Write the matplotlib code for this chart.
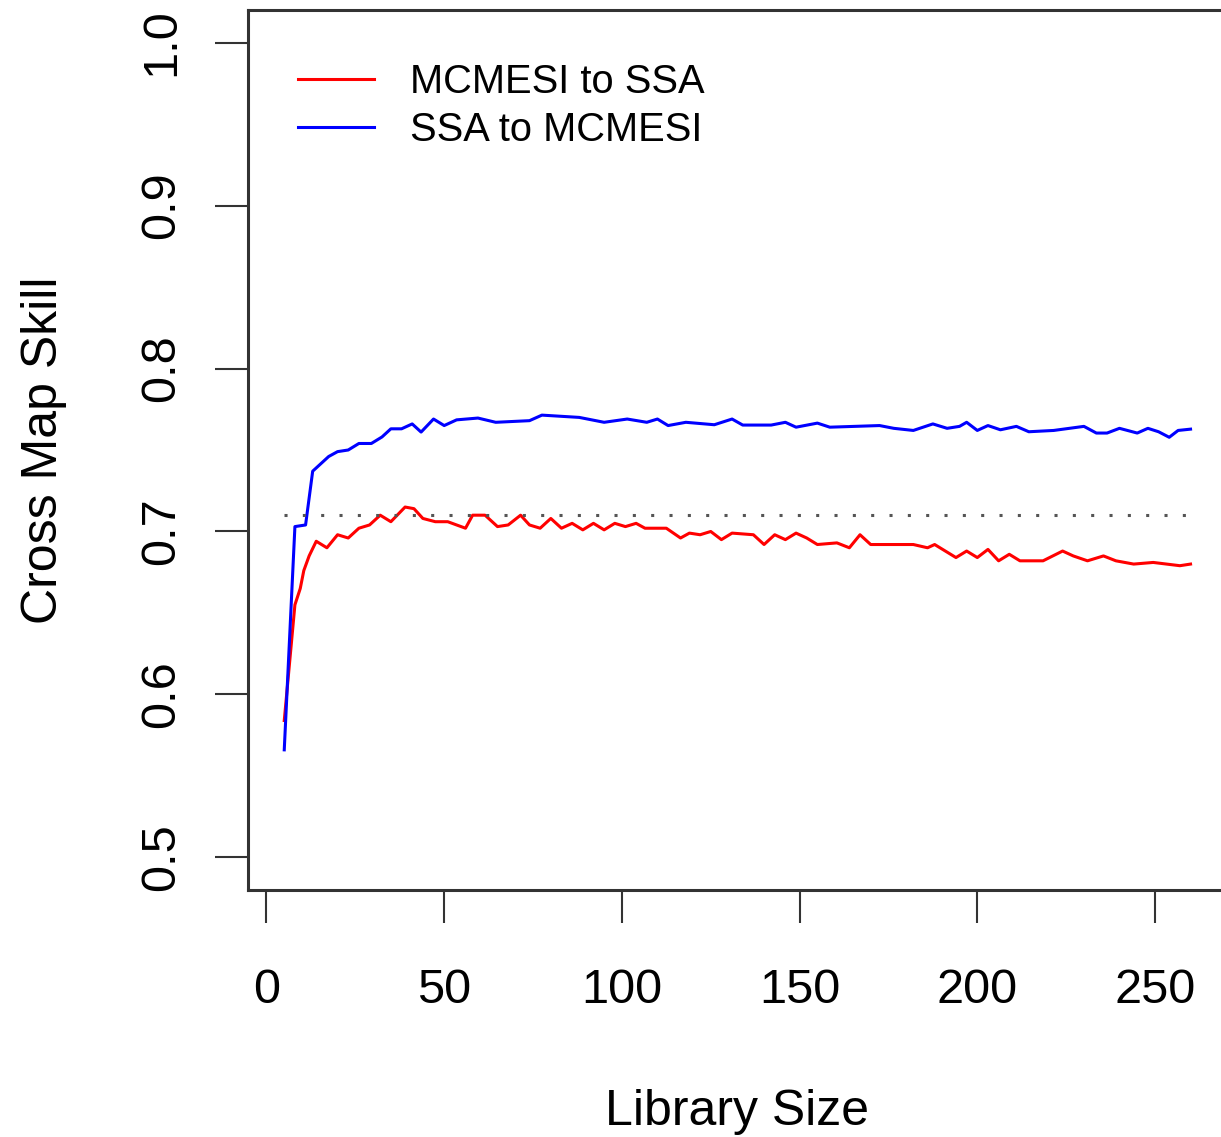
import matplotlib
matplotlib.use("Agg")
import matplotlib.pyplot as plt

plt.rcParams['font.family'] = ['Liberation Sans', 'DejaVu Sans']

# cross map skill vs library size, read per series
red_lib = [5, 8, 9.5, 10.5, 12, 14, 17, 20, 23, 26, 29, 32, 35, 39, 41.5, 44,
           47.5, 51, 56, 58, 61.5, 65, 68, 71.5, 74, 77, 80, 83, 86, 89, 92,
           95, 98, 101, 104, 106.5, 112.5, 116.5, 119, 122, 125, 128, 131,
           137, 140, 143, 146, 149, 152, 155, 160.5, 164, 167, 170, 182, 186,
           188, 194, 197, 200, 203, 206, 209, 212, 218.5, 224, 227, 231,
           235.5, 239, 244, 249.5, 257, 260]
red_skill = [0.584, 0.655, 0.665, 0.676, 0.685, 0.694, 0.690, 0.698, 0.696,
             0.702, 0.704, 0.710, 0.706, 0.715, 0.714, 0.708, 0.706, 0.706,
             0.702, 0.710, 0.710, 0.703, 0.704, 0.710, 0.704, 0.702, 0.708,
             0.702, 0.705, 0.701, 0.705, 0.701, 0.705, 0.703, 0.705, 0.702,
             0.702, 0.696, 0.699, 0.698, 0.700, 0.695, 0.699, 0.698, 0.692,
             0.698, 0.695, 0.699, 0.696, 0.692, 0.693, 0.690, 0.698, 0.692,
             0.692, 0.690, 0.692, 0.684, 0.688, 0.684, 0.689, 0.682, 0.686,
             0.682, 0.682, 0.688, 0.685, 0.682, 0.685, 0.682, 0.680, 0.681,
             0.679, 0.680]

blue_lib = [5, 8, 11, 13, 14.5, 17.5, 20, 23, 26, 29.5, 32.5, 35, 38, 41,
            43.5, 47, 50, 53.5, 59.5, 64.5, 74, 77.5, 88, 95, 101.5, 107, 110,
            113, 118, 126, 131, 134, 142, 146, 149, 155, 158.5, 172.5, 176.5,
            182, 187.5, 191.5, 195, 197, 200, 203, 206.5, 211, 214.5, 221.5,
            230, 233.5, 236.5, 240, 245, 248, 251, 254, 256.5, 260]
blue_skill = [0.566, 0.703, 0.704, 0.737, 0.740, 0.746, 0.749, 0.750, 0.754,
              0.754, 0.758, 0.763, 0.763, 0.766, 0.761, 0.769, 0.765, 0.7685,
              0.7696, 0.767, 0.768, 0.7714, 0.770, 0.767, 0.769, 0.767, 0.769,
              0.765, 0.767, 0.7655, 0.769, 0.7653, 0.7653, 0.767, 0.764,
              0.7665, 0.764, 0.765, 0.7633, 0.762, 0.766, 0.7633, 0.7645,
              0.767, 0.762, 0.765, 0.7624, 0.7645, 0.7612, 0.762, 0.7645,
              0.7604, 0.7604, 0.7633, 0.7604, 0.7633, 0.7612, 0.7578, 0.762,
              0.7628]

ref_lib = [5, 259]
ref_skill = [0.71, 0.71]

x_ticks = [0, 50, 100, 150, 200, 250]
y_ticks = [0.5, 0.6, 0.7, 0.8, 0.9, 1.0]
y_tick_labels = ["0.5", "0.6", "0.7", "0.8", "0.9", "1.0"]

fig = plt.figure(figsize=(12.21, 11.37), dpi=100)
ax = fig.add_axes([248 / 1221, 247 / 1137, 978.8 / 1221, 880 / 1137])

ax.plot(red_lib, red_skill, color='#ff0000', lw=2.2, label='MCMESI to SSA')
ax.plot(blue_lib, blue_skill, color='#0000ff', lw=2.2, label='SSA to MCMESI')
ax.plot(ref_lib, ref_skill, color='#555555', lw=2.2, linestyle=(0, (1, 5)))

ax.set_xlim(-5.2, 270.2)
ax.set_ylim(0.48, 1.02)
ax.set_xticks(x_ticks)
ax.set_yticks(y_ticks)
ax.set_yticklabels(y_tick_labels, rotation=90, va='center')

for side in ax.spines.values():
    side.set_linewidth(2.2)
    side.set_color('#333333')

ax.tick_params(axis='both', direction='out', length=24, width=1.5,
               color='#333333', labelsize=35)
ax.tick_params(axis='x', pad=32)
ax.tick_params(axis='y', pad=22)

ax.set_xlabel('Library Size', fontsize=36, labelpad=55)
ax.set_ylabel('Cross Map Skill', fontsize=36, labelpad=52)

ax.legend(loc='upper left', bbox_to_anchor=(0.035, 0.958), frameon=False,
          fontsize=28.7, handlelength=1.9, handletextpad=0.9,
          labelspacing=0.25, borderaxespad=0)

fig.savefig('out.png', dpi=100)
